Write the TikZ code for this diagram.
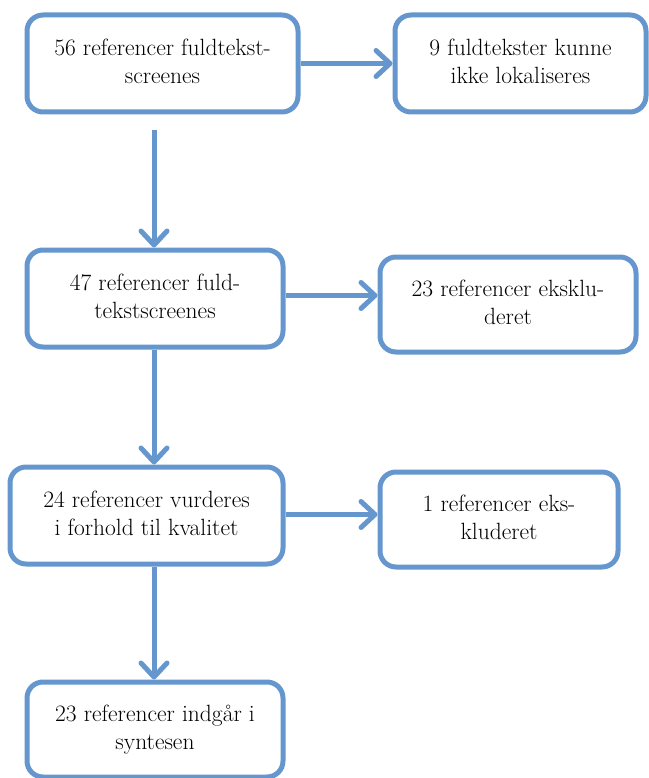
\documentclass[tikz,border=0pt]{standalone}
\usepackage{fontspec}
\usetikzlibrary{arrows.meta}
\definecolor{boxblue}{RGB}{101,151,206}
\newcommand\boxtext[1]{\raisebox{7pt}{\fontsize{23.5}{28}\selectfont\begin{tabular}{@{}c@{}}#1\end{tabular}}}
\begin{document}
\begin{tikzpicture}[x=1pt,y=-1pt,
  flowbox/.style={draw=boxblue,line width=5pt,rounded corners=16pt,fill=white,inner sep=0pt,anchor=center},
  flowarrow/.style={draw=boxblue,line width=5pt,-{Straight Barb[length=14pt,width=26pt,round]}}]
\useasboundingbox (0,0) rectangle (648,778);
\node[flowbox,minimum width=271pt,minimum height=97pt] (b1) at (162.5,63.5) {\boxtext{56 referencer fuldtekst-\\screenes}};
\node[flowbox,minimum width=251pt,minimum height=97pt] (b2) at (520.5,63.5) {\boxtext{9 fuldtekster kunne\\ikke lokaliseres}};
\node[flowbox,minimum width=256pt,minimum height=97pt] (b3) at (155,298.5) {\boxtext{47 referencer fuld-\\tekstscreenes}};
\node[flowbox,minimum width=256pt,minimum height=95pt] (b4) at (508,304.5) {\boxtext{23 referencer eksklu-\\deret}};
\node[flowbox,minimum width=273pt,minimum height=97pt] (b5) at (146.5,515.5) {\boxtext{24 referencer vurderes\\i forhold til kvalitet}};
\node[flowbox,minimum width=238pt,minimum height=95pt] (b6) at (499,519.5) {\boxtext{1 referencer eks-\\kluderet}};
\node[flowbox,minimum width=256pt,minimum height=95pt] (b7) at (155,729.5) {\boxtext{23 referencer indgår i\\syntesen}};
\coordinate (s1) at (154,130);
\coordinate (v) at (154,0);
\coordinate (h3) at ([yshift=3pt]b3.east);
\coordinate (h5) at ([yshift=1pt]b5.east);
\draw[flowarrow] (b1.east) -- (b2.west);
\draw[flowarrow] (s1) -- (s1 |- b3.north);
\draw[flowarrow] (h3) -- (b4.west |- h3);
\draw[flowarrow] (v |- b3.south) -- (v |- b5.north);
\draw[flowarrow] (h5) -- (b6.west |- h5);
\draw[flowarrow] (v |- b5.south) -- (v |- b7.north);
\end{tikzpicture}
\end{document}
